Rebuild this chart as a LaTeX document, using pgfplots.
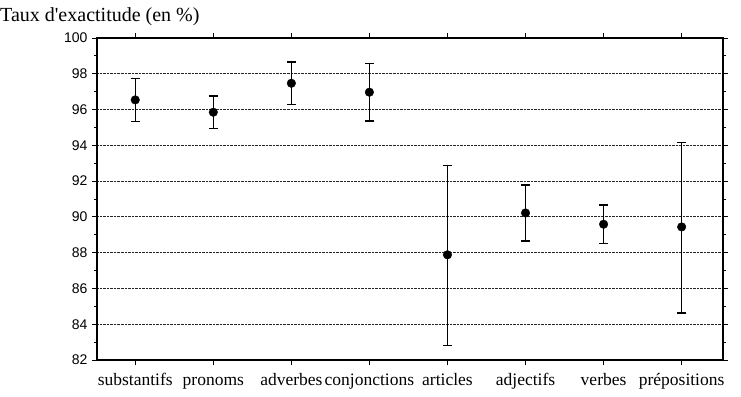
\documentclass[border=0pt]{standalone}
\usepackage{fontspec}
\setmainfont{Liberation Serif}
\newfontfamily\sansf{Liberation Sans}
\usepackage{pgfplots}
\pgfplotsset{compat=1.18}
\begin{document}
\begin{tikzpicture}
\begin{axis}[
  scale only axis,
  width=626bp, height=322bp,
  xmin=-0.49, xmax=7.53,
  ymin=82, ymax=100,
  ytick={82,84,...,100},
  minor ytick={83,85,...,99},
  xtick={0,1,...,7},
  xticklabels={substantifs,pronoms,adverbes,conjonctions,articles,adjectifs,verbes,pr\'epositions},
  tick align=outside,
  tick pos=both,
  major tick length=5bp,
  minor tick length=3bp,
  axis line style={line width=1.2bp},
  every tick/.style={black, line width=0.9bp},
  ymajorgrids,
  major grid style={densely dotted, line width=0.8bp, black!85},
  /pgf/number format/assume math mode=true,
  yticklabel style={font=\sansf\fontsize{14bp}{16bp}\selectfont, xshift=-1bp},
  xticklabel style={font=\fontsize{17.5bp}{20bp}\selectfont, anchor=base, yshift=-20bp},
  clip=false,
]
\addplot[only marks, mark=*, mark size=4.3bp, black,
  error bars/.cd, y dir=both, y explicit,
  error bar style={line width=1.4bp, black},
  error mark options={rotate=90, mark size=4.5bp, line width=1.4bp, black}]
  coordinates {
    (0,96.54) +- (0,1.2)
    (1,95.85) +- (0,0.9)
    (2,97.47) +- (0,1.19)
    (3,96.97) +- (0,1.6)
  };
\addplot[only marks, mark=*, mark size=4.3bp, black,
  error bars/.cd, y dir=both, y explicit,
  error bar style={line width=1.4bp, black},
  error mark options={rotate=90, mark size=4.5bp, line width=1.4bp, black}]
  table[x=x, y=y, y error plus=ep, y error minus=em] {
    x y ep em
    4 87.88 4.99 5.08
    5 90.22 1.57 1.56
    6 89.59 1.08 1.08
    7 89.44 4.73 4.82
  };
\node[anchor=base west, font=\fontsize{20bp}{22bp}\selectfont, inner sep=0pt]
  at ([xshift=-97bp, yshift=16bp]rel axis cs:0,1) {Taux d\textquotesingle exactitude (en \%)};
\end{axis}
\path (current axis.south west) ++(-97bp,-37bp) rectangle ++(741bp,397bp);
\end{tikzpicture}
\end{document}
